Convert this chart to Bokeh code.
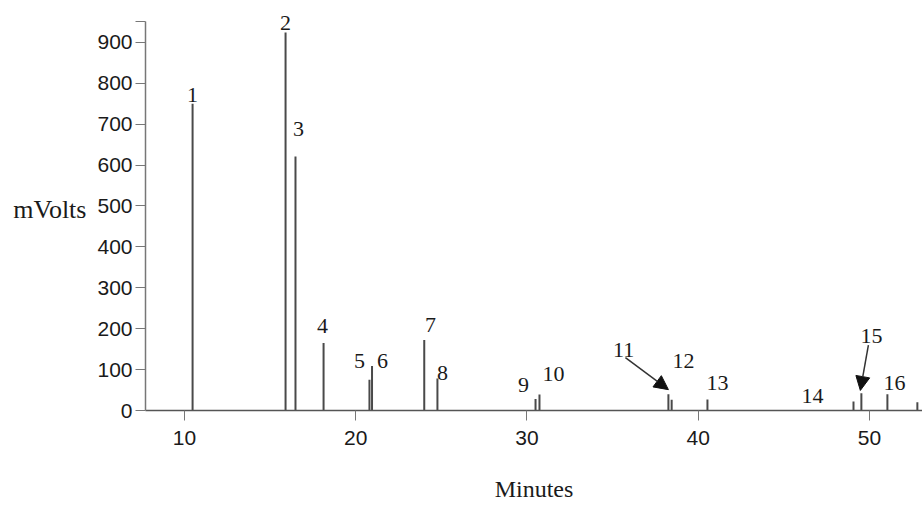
from bokeh.plotting import figure
from bokeh.models import FixedTicker, Arrow, NormalHead, ColumnDataSource, Range1d, LabelSet
from bokeh.embed import file_html
from bokeh.resources import INLINE

# Peak retention times (minutes) and heights (mVolts)
peak_time = [10.47, 15.90, 16.48, 18.12, 20.80, 20.95, 24.00, 24.77, 30.50, 30.73,
             38.26, 38.45, 40.54, 49.07, 49.53, 51.05, 52.80]
peak_height = [750, 924, 621, 165, 75, 109, 172, 78, 28, 39,
               40, 26, 27, 22, 42, 40, 20]

# Peak labels and their anchor points (minutes, mVolts)
label_text = ["1", "2", "3", "4", "5", "6", "7", "8", "9", "10",
              "11", "12", "13", "14", "15", "16"]
label_x = [10.47, 15.90, 16.66, 18.06, 20.22, 21.56, 24.36, 25.07, 29.80, 31.55,
           35.64, 39.14, 41.12, 46.67, 50.12, 51.46]
label_y = [771, 946, 687, 206, 121, 121, 209, 92, 63, 90,
           148, 121, 66, 36, 182, 66]

# Arrows: start (x, y) -> end (x, y)
arrow_x0 = [35.75, 49.94]
arrow_y0 = [129, 160]
arrow_x1 = [38.26, 49.47]
arrow_y1 = [51, 49]

y_ticks = [0, 100, 200, 300, 400, 500, 600, 700, 800, 900, 950]
x_ticks = [10, 20, 30, 40, 50]

p = figure(width=922, height=504, output_backend="svg", toolbar_location=None,
           x_range=Range1d(7.72, 53.1), y_range=Range1d(0, 982.5),
           min_border_left=145, min_border_right=0, min_border_top=8,
           min_border_bottom=91)

p.background_fill_color = "white"
p.border_fill_color = "white"
p.outline_line_color = None
p.xgrid.grid_line_color = None
p.ygrid.grid_line_color = None

# peaks
p.segment(x0=peak_time, y0=[0] * len(peak_time), x1=peak_time, y1=peak_height,
          line_color="#4a4a4a", line_width=2)

# peak labels
src = ColumnDataSource(dict(x=label_x, y=label_y, t=label_text))
p.add_layout(LabelSet(x="x", y="y", text="t", source=src, text_align="center",
                      text_baseline="middle", text_font="Liberation Serif",
                      text_font_size="22px", text_color="#1a1a1a"))

# arrows
for x0, y0, x1, y1 in zip(arrow_x0, arrow_y0, arrow_x1, arrow_y1):
    p.add_layout(Arrow(end=NormalHead(size=14, fill_color="#111111",
                                      line_color="#111111"),
                       x_start=x0, y_start=y0, x_end=x1, y_end=y1,
                       line_color="#333333", line_width=1.5))

# axes
xa = p.xaxis[0]
xa.ticker = FixedTicker(ticks=x_ticks)
xa.axis_label = "Minutes"
xa.axis_label_text_font = "Liberation Serif"
xa.axis_label_text_font_style = "normal"
xa.axis_label_text_font_size = "24px"
xa.axis_label_text_color = "#1a1a1a"
xa.axis_label_standoff = 28
xa.major_label_text_font = "Liberation Sans"
xa.major_label_text_font_size = "21px"
xa.major_label_text_color = "#1a1a1a"
xa.major_label_standoff = 10
xa.major_tick_out = 10
xa.major_tick_in = 0
xa.minor_tick_line_color = None
xa.axis_line_color = "#555555"
xa.axis_line_width = 1.5
xa.major_tick_line_color = "#777777"

ya = p.yaxis[0]
ya.ticker = FixedTicker(ticks=y_ticks)
ya.bounds = (0, 951)
ya.major_label_overrides = {950: ""}
ya.axis_label = "mVolts"
ya.axis_label_orientation = "horizontal"
ya.axis_label_text_font = "Liberation Serif"
ya.axis_label_text_font_style = "normal"
ya.axis_label_text_font_size = "26px"
ya.axis_label_text_color = "#1a1a1a"
ya.axis_label_standoff = 8
ya.major_label_text_font = "Liberation Sans"
ya.major_label_text_font_size = "21px"
ya.major_label_text_color = "#1a1a1a"
ya.major_label_standoff = 3
ya.major_tick_out = 10
ya.major_tick_in = 0
ya.minor_tick_line_color = None
ya.axis_line_color = "#777777"
ya.axis_line_width = 1.5
ya.major_tick_line_color = "#777777"

open("out.html", "w").write(file_html(p, INLINE))
